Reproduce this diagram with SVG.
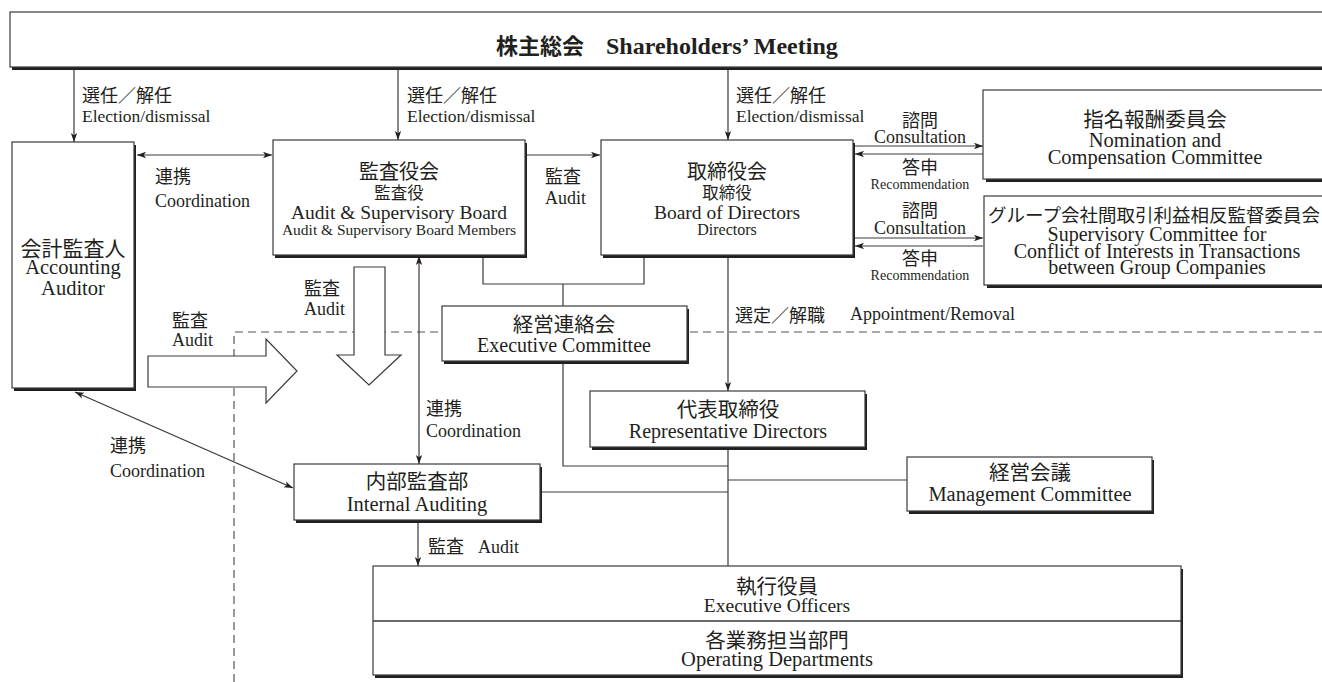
<svg xmlns="http://www.w3.org/2000/svg" width="1322" height="682" viewBox="0 0 1322 682">
<defs>
<style>
.sh{fill:#231f20}
.bx{fill:#fff;stroke:#3a3a3a;stroke-width:1.2}
.ln{fill:none;stroke:#3a3a3a;stroke-width:1.2}
.ar{fill:none;stroke:#3a3a3a;stroke-width:1.2;marker-end:url(#ah)}
.ar2{fill:none;stroke:#3a3a3a;stroke-width:1.2;marker-start:url(#ah);marker-end:url(#ah)}
.dash{fill:none;stroke:#555;stroke-width:1.2;stroke-dasharray:8 5}
.blk{fill:#fff;stroke:#3a3a3a;stroke-width:1.2}
text{fill:#231f20}
.jp{font-family:"Noto Sans CJK JP","Noto Sans CJK SC",sans-serif}
.en{font-family:"Liberation Serif",serif}
.m{text-anchor:middle}
</style>
<marker id="ah" viewBox="0 0 10 10" refX="10" refY="5" markerWidth="9" markerHeight="9" markerUnits="userSpaceOnUse" orient="auto-start-reverse">
<path d="M0,1.5 L10,5 L0,8.5 L2.5,5 Z" fill="#231f20"/>
</marker>
</defs>

<rect width="1322" height="682" fill="#fff"/>

<!-- dashed boundary -->
<g id="boundary">
<path class="dash" d="M234,682 V332 H1322"/>
</g>

<!-- connectors -->
<g id="connectors">
<line class="ar" x1="74" y1="68" x2="74" y2="142"/>
<line class="ar" x1="398" y1="68" x2="398" y2="140"/>
<line class="ar" x1="728" y1="68" x2="728" y2="140"/>
<line class="ar2" x1="137" y1="155" x2="272" y2="155"/>
<line class="ar" x1="527" y1="155" x2="600" y2="155"/>
<line class="ar" x1="855" y1="146" x2="983" y2="146"/>
<line class="ar" x1="983" y1="154" x2="855" y2="154"/>
<line class="ar" x1="855" y1="238" x2="983" y2="238"/>
<line class="ar" x1="983" y1="246" x2="855" y2="246"/>
<path class="ln" d="M483,256 V284 H644 V256"/>
<line class="ln" x1="563" y1="284" x2="563" y2="306"/>
<path class="ln" d="M563,362 V466 H728"/>
<line class="ar" x1="728" y1="256" x2="728" y2="391"/>
<line class="ln" x1="728" y1="448" x2="728" y2="566"/>
<line class="ln" x1="728" y1="480" x2="907" y2="480"/>
<line class="ln" x1="542" y1="492" x2="728" y2="492"/>
<line class="ar2" x1="419" y1="256" x2="419" y2="464"/>
<line class="ar2" x1="75" y1="392" x2="293" y2="488"/>
<line class="ar" x1="418" y1="522" x2="418" y2="566"/>
<!-- block arrows -->
<polygon class="blk" points="148,356 266,356 266,339 297,371 266,403 266,387 148,387"/>
<polygon class="blk" points="354,267 385,267 385,355 401,355 369,385 337,355 354,355"/>
</g>

<!-- labels on connectors -->
<g id="labels">
<text class="jp" x="82" y="102" font-size="18">選任／解任</text>
<text class="en" x="82" y="122" font-size="17.5">Election/dismissal</text>
<text class="jp" x="407" y="102" font-size="18">選任／解任</text>
<text class="en" x="407" y="122" font-size="17.5">Election/dismissal</text>
<text class="jp" x="736" y="102" font-size="18">選任／解任</text>
<text class="en" x="736" y="122" font-size="17.5">Election/dismissal</text>
<text class="jp" x="155" y="183" font-size="18">連携</text>
<text class="en" x="155" y="207" font-size="18">Coordination</text>
<text class="jp" x="545" y="183" font-size="18">監査</text>
<text class="en" x="545" y="204" font-size="18">Audit</text>
<text class="jp m" x="920" y="127" font-size="18">諮問</text>
<text class="en m" x="920" y="143" font-size="18">Consultation</text>
<text class="jp m" x="920" y="174" font-size="18">答申</text>
<text class="en m" x="920" y="189" font-size="14">Recommendation</text>
<text class="jp m" x="920" y="217" font-size="18">諮問</text>
<text class="en m" x="920" y="234" font-size="18">Consultation</text>
<text class="jp m" x="920" y="265" font-size="18">答申</text>
<text class="en m" x="920" y="280" font-size="14">Recommendation</text>
<text class="jp" x="304" y="295" font-size="18">監査</text>
<text class="en" x="304" y="315" font-size="18">Audit</text>
<text class="jp" x="172" y="327" font-size="18">監査</text>
<text class="en" x="172" y="346" font-size="18">Audit</text>
<text class="jp" x="735" y="322" font-size="18">選定／解職</text>
<text class="en" x="850" y="320" font-size="18">Appointment/Removal</text>
<text class="jp" x="426" y="415" font-size="18">連携</text>
<text class="en" x="426" y="437" font-size="18">Coordination</text>
<text class="jp" x="110" y="452" font-size="18">連携</text>
<text class="en" x="110" y="477" font-size="18">Coordination</text>
<text class="jp" x="428" y="553" font-size="18">監査</text>
<text class="en" x="478" y="553" font-size="18">Audit</text>
</g>

<!-- nodes -->
<g id="shareholders">
<rect class="sh" x="12" y="15" width="1320" height="55"/>
<rect class="bx" x="10" y="12" width="1320" height="55"/>
<text x="496" y="54" font-size="22" font-weight="bold"><tspan class="jp">株主総会</tspan><tspan class="en" x="606" font-size="24">Shareholders’ Meeting</tspan></text>
</g>

<g id="accounting-auditor">
<rect class="sh" x="14" y="145" width="122" height="246"/>
<rect class="bx" x="12" y="142" width="122" height="246"/>
<text class="jp m" x="73" y="256" font-size="21">会計監査人</text>
<text class="en m" x="73" y="274" font-size="20.5">Accounting</text>
<text class="en m" x="73" y="295" font-size="20.5">Auditor</text>
</g>

<g id="audit-board">
<rect class="sh" x="275" y="143" width="252" height="115"/>
<rect class="bx" x="273" y="140" width="252" height="115"/>
<text class="jp m" x="399" y="179" font-size="20">監査役会</text>
<text class="jp m" x="399" y="199" font-size="16.5">監査役</text>
<text class="en m" x="399" y="219" font-size="19.5">Audit &amp; Supervisory Board</text>
<text class="en m" x="399" y="235" font-size="15.5">Audit &amp; Supervisory Board Members</text>
</g>

<g id="board-of-directors">
<rect class="sh" x="603" y="143" width="252" height="115"/>
<rect class="bx" x="601" y="140" width="252" height="115"/>
<text class="jp m" x="727" y="179" font-size="20">取締役会</text>
<text class="jp m" x="727" y="199" font-size="16.5">取締役</text>
<text class="en m" x="727" y="219" font-size="19.5">Board of Directors</text>
<text class="en m" x="727" y="235" font-size="16">Directors</text>
</g>

<g id="nomination-committee">
<rect class="sh" x="986" y="93" width="340" height="89"/>
<rect class="bx" x="983" y="90" width="345" height="89"/>
<text class="jp m" x="1155" y="127" font-size="20.5">指名報酬委員会</text>
<text class="en m" x="1155" y="147" font-size="20.5">Nomination and</text>
<text class="en m" x="1155" y="164" font-size="20.5">Compensation Committee</text>
</g>

<g id="group-committee">
<rect class="sh" x="987" y="199" width="340" height="89"/>
<rect class="bx" x="984" y="196" width="345" height="89"/>
<text class="jp" x="988" y="222" font-size="18.5">グループ会社間取引利益相反監督委員会</text>
<text class="en m" x="1157" y="241" font-size="20">Supervisory Committee for</text>
<text class="en m" x="1157" y="258" font-size="20">Conflict of Interests in Transactions</text>
<text class="en m" x="1157" y="274" font-size="20">between Group Companies</text>
</g>

<g id="executive-committee">
<rect class="sh" x="444" y="309" width="245" height="55"/>
<rect class="bx" x="442" y="306" width="245" height="55"/>
<text class="jp m" x="564" y="332" font-size="20.5">経営連絡会</text>
<text class="en m" x="564" y="352" font-size="20">Executive Committee</text>
</g>

<g id="representative-directors">
<rect class="sh" x="592" y="394" width="275" height="56"/>
<rect class="bx" x="590" y="391" width="275" height="56"/>
<text class="jp m" x="728" y="417" font-size="20.5">代表取締役</text>
<text class="en m" x="728" y="438" font-size="20">Representative Directors</text>
</g>

<g id="internal-auditing">
<rect class="sh" x="296" y="467" width="246" height="56"/>
<rect class="bx" x="294" y="464" width="246" height="56"/>
<text class="jp m" x="417" y="489" font-size="20.5">内部監査部</text>
<text class="en m" x="417" y="511" font-size="20.5">Internal Auditing</text>
</g>

<g id="management-committee">
<rect class="sh" x="909" y="460" width="245" height="54"/>
<rect class="bx" x="907" y="457" width="245" height="54"/>
<text class="jp m" x="1030" y="480" font-size="20.5">経営会議</text>
<text class="en m" x="1030" y="501" font-size="20.5">Management Committee</text>
</g>

<g id="executive-officers">
<rect class="sh" x="375" y="569" width="808" height="109"/>
<rect class="bx" x="373" y="566" width="808" height="109"/>
<line x1="373" y1="621" x2="1181" y2="621" stroke="#3a3a3a" stroke-width="1.5"/>
<text class="jp m" x="777" y="594" font-size="20.5">執行役員</text>
<text class="en m" x="777" y="612" font-size="19.5">Executive Officers</text>
<text class="jp m" x="777" y="648" font-size="20.5">各業務担当部門</text>
<text class="en m" x="777" y="666" font-size="20.5">Operating Departments</text>
</g>
</svg>
